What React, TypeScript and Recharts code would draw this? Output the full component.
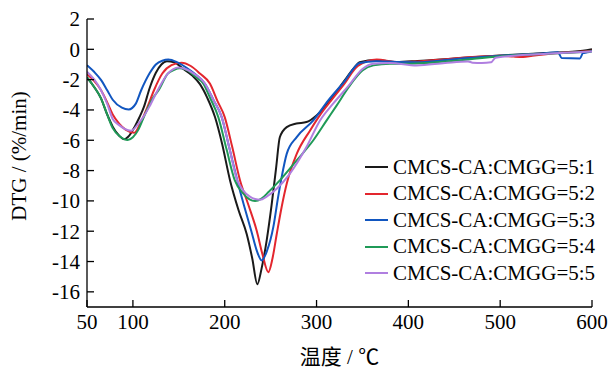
import React from 'react';
import { LineChart, Line, XAxis, YAxis, Label } from 'recharts';

// Temperature (°C) and DTG (%/min) per sample
const t51 = [50, 58, 65, 72, 78, 85, 90.6, 96, 102, 107, 112, 118, 125, 131, 137, 145, 155, 165, 173, 181, 189.4, 197, 205.8, 215, 224, 230, 235.5, 240, 245.7, 251, 256, 260, 267.5, 278, 289, 300, 315, 330, 340, 347, 365, 387, 410, 450, 500, 550, 590, 600];
const v51 = [-1.85, -2.5, -3.2, -4.3, -5.1, -5.7, -5.93, -5.7, -5.1, -4.5, -3.8, -2.6, -1.55, -1.0, -0.78, -0.85, -1.3, -1.75, -2.3, -3.2, -4.47, -6.2, -8.65, -10.6, -12.2, -13.8, -15.5, -14.5, -12.6, -10.3, -7.8, -5.8, -5.13, -4.9, -4.8, -4.36, -3.37, -2.1, -1.3, -0.85, -0.7, -0.84, -0.77, -0.6, -0.4, -0.25, -0.1, 0.0];

const t52 = [50, 58, 65, 72, 78, 85, 92, 101.5, 108, 116, 123, 132, 142, 153, 163, 173, 184, 192, 200, 208, 216.7, 226, 235, 241, 247.5, 252, 256.6, 262, 267.5, 278.4, 293, 307.4, 316, 330, 345, 365.6, 387, 410, 450, 500, 515, 525, 535, 550, 590, 600];
const v52 = [-1.65, -2.1, -2.67, -3.5, -4.3, -4.9, -5.3, -5.5, -4.9, -3.78, -2.7, -1.6, -1.05, -0.88, -1.1, -1.6, -2.27, -3.4, -4.47, -6.4, -8.65, -10.3, -12.0, -13.5, -14.7, -13.8, -12.2, -10.4, -8.87, -6.9, -5.35, -4.03, -3.37, -2.3, -1.1, -0.68, -0.84, -0.8, -0.6, -0.42, -0.48, -0.5, -0.42, -0.32, -0.15, -0.1];

const t53 = [50, 58, 65, 72, 78, 88, 95.4, 103, 109, 118, 125, 132, 138.6, 148, 158, 168, 178.5, 188, 196.7, 205, 213.7, 221, 229, 235, 240.3, 246, 253, 258, 262, 267.5, 278.4, 296.5, 312.8, 330, 347, 365, 387, 410, 450, 500, 540, 563, 567, 587, 590, 595, 600];
const v53 = [-1.05, -1.5, -2.0, -2.7, -3.33, -3.85, -3.97, -3.6, -2.7, -1.6, -1.0, -0.75, -0.68, -0.85, -1.2, -1.65, -2.27, -3.37, -4.47, -6.5, -8.65, -10.3, -12.0, -13.3, -13.93, -13.3, -11.7, -9.8, -8.43, -6.9, -5.79, -4.69, -3.37, -2.15, -0.9, -0.78, -0.84, -0.85, -0.65, -0.42, -0.3, -0.2, -0.58, -0.6, -0.25, -0.2, -0.1];

const t54 = [50, 58, 65, 72, 78, 86, 94.3, 100, 106, 111, 117, 122, 128, 138, 145, 151, 160, 168, 176.7, 184, 193, 202, 211, 220, 227, 233, 240, 248, 260, 278.4, 296.5, 311, 322, 335, 350, 362, 380, 400, 420, 450, 500, 550, 600];
const v54 = [-1.85, -2.5, -3.2, -4.3, -5.2, -5.75, -5.98, -5.8, -5.3, -4.6, -3.78, -3.2, -2.7, -1.6, -1.35, -1.25, -1.4, -1.8, -2.27, -3.2, -4.47, -6.6, -8.65, -9.5, -9.9, -10.01, -9.85, -9.4, -8.65, -7.33, -6.0, -4.69, -3.7, -2.5, -1.4, -1.06, -0.95, -0.95, -0.9, -0.75, -0.45, -0.3, -0.15];

const t55 = [50, 58, 65, 72, 78, 85, 91, 98, 106, 112, 118, 127, 138, 144, 149.5, 157, 165, 178.5, 188, 196.7, 205, 213.7, 220, 227, 233, 238.5, 246, 256.6, 271, 289, 303.8, 318, 335, 350, 362, 380, 409, 440, 465, 470, 480, 490, 495, 550, 600];
const v55 = [-1.48, -2.0, -2.67, -3.6, -4.6, -5.0, -5.25, -5.37, -4.9, -4.4, -3.78, -2.7, -1.6, -1.3, -1.2, -1.3, -1.55, -2.27, -3.37, -4.47, -6.5, -8.65, -9.3, -9.7, -9.88, -9.92, -9.7, -9.2, -8.2, -6.45, -4.69, -3.59, -2.4, -1.3, -0.95, -0.9, -1.06, -0.9, -0.8, -0.88, -0.9, -0.86, -0.55, -0.3, -0.15];

const seriesNames = ['CMCS-CA:CMGG=5:1', 'CMCS-CA:CMGG=5:2', 'CMCS-CA:CMGG=5:3', 'CMCS-CA:CMGG=5:4', 'CMCS-CA:CMGG=5:5'];
const seriesColors = ['#1a1a1a', '#e3262e', '#1156c0', '#1f9a57', '#b07fe0'];
const xTicks = [50, 100, 200, 300, 400, 500, 600];
const yTicks = [2, 0, -2, -4, -6, -8, -10, -12, -14, -16];

const build = (t: number[], v: number[]) => t.map((x, i) => ({ t: x, v: v[i] }));
const allSeries = [build(t51, v51), build(t52, v52), build(t53, v53), build(t54, v54), build(t55, v55)];

const FONT = '"Liberation Serif", "Times New Roman", serif';

const LegendBox = () => (
  <div style={{ position: 'absolute', left: 365, top: 154, fontFamily: FONT, fontSize: 21, color: '#000' }}>
    {seriesNames.map((n, i) => (
      <div key={n} style={{ height: 26.5, display: 'flex', alignItems: 'center', whiteSpace: 'nowrap' }}>
        <span style={{ display: 'inline-block', width: 23, height: 0, borderTop: `2px solid ${seriesColors[i]}`, marginRight: 5 }} />
        <span>{n}</span>
      </div>
    ))}
  </div>
);

export default function App() {
  return (
    <div style={{ position: 'absolute', left: 0, top: 0, width: 611, height: 372, background: '#fff' }}>
      <LineChart width={611} height={372} margin={{ top: 19, right: 19, left: 0, bottom: 0 }}>
        <XAxis
          type="number"
          dataKey="t"
          domain={[50, 600]}
          ticks={xTicks}
          interval={0}
          allowDataOverflow
          height={65}
          stroke="#000"
          strokeWidth={1.3}
          tickSize={-7}
          tickMargin={14}
          tick={{ fill: '#000', fontSize: 21, fontFamily: FONT }}
        >
          <Label
            content={() => (
              <text x={339.5} y={357} textAnchor="middle" dominantBaseline="central" fontSize={21} fontFamily={'"Liberation Serif", "Noto Sans CJK SC", serif'} fill="#000">
                温度 / ℃
              </text>
            )}
          />
        </XAxis>
        <YAxis
          type="number"
          domain={[-17, 2]}
          ticks={yTicks}
          interval={0}
          allowDataOverflow
          width={87}
          stroke="#000"
          strokeWidth={1.3}
          tickSize={-7}
          tickMargin={14}
          tick={{ fill: '#000', fontSize: 21, fontFamily: FONT }}
        >
          <Label
            content={() => (
              <text x={19} y={156} transform="rotate(-90 19 156)" textAnchor="middle" dominantBaseline="central" fontSize={21} fontFamily={FONT} fill="#000">
                DTG / (%/min)
              </text>
            )}
          />
        </YAxis>
        {allSeries.map((d, i) => (
          <Line
            key={seriesNames[i]}
            data={d}
            dataKey="v"
            name={seriesNames[i]}
            type="monotone"
            stroke={seriesColors[i]}
            strokeWidth={2}
            dot={false}
            activeDot={false}
            isAnimationActive={false}
          />
        ))}
      </LineChart>
      <LegendBox />
    </div>
  );
}
